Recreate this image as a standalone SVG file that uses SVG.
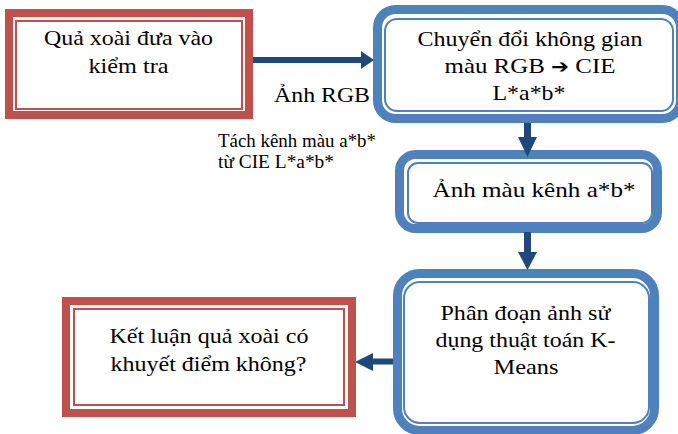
<svg xmlns="http://www.w3.org/2000/svg" width="678" height="434" viewBox="0 0 678 434">
<style>
.red-o{fill:none;stroke:#C0504D;stroke-width:8}
.red-i{fill:none;stroke:#C0504D;stroke-width:2}
.blue-o{fill:none;stroke:#4F81BD;stroke-width:9}
.blue-i{fill:none;stroke:#4F81BD;stroke-width:2}
.t{font-family:"Liberation Serif","Times New Roman",serif;font-size:22px;fill:#000;text-anchor:middle}
.s{font-family:"Liberation Serif","Times New Roman",serif;font-size:18px;fill:#000}
.sym{font-family:"DejaVu Sans",sans-serif;font-size:19px}
.arr{fill:#1F497D}
</style>
<rect width="678" height="434" fill="#fff"/>
<g id="node-input">
<rect class="red-o" x="9" y="13" width="240" height="102"/>
<rect class="red-i" x="16" y="21" width="226" height="88"/>
<text class="t" x="128.5" y="45" textLength="169" lengthAdjust="spacingAndGlyphs">Quả xoài đưa vào</text>
<text class="t" x="128.5" y="73" textLength="80" lengthAdjust="spacingAndGlyphs">kiểm tra</text>
</g>
<g id="node-convert">
<rect class="blue-o" x="377.5" y="9.5" width="303" height="109" rx="18"/>
<rect class="blue-i" x="385" y="19" width="288" height="92" rx="12"/>
<text class="t" x="530" y="46" textLength="225" lengthAdjust="spacingAndGlyphs">Chuyển đổi không gian</text>
<text class="t" x="530" y="73" textLength="171" lengthAdjust="spacingAndGlyphs">màu RGB <tspan class="sym">➔</tspan> CIE</text>
<text class="t" x="529" y="100" textLength="73" lengthAdjust="spacingAndGlyphs">L*a*b*</text>
</g>
<g id="node-ab">
<rect class="blue-o" x="399.5" y="154.5" width="258" height="74" rx="16"/>
<rect class="blue-i" x="408" y="163" width="244" height="60" rx="10"/>
<text class="t" x="534" y="197" textLength="203" lengthAdjust="spacingAndGlyphs">Ảnh màu kênh a*b*</text>
</g>
<g id="node-kmeans">
<rect class="blue-o" x="397.5" y="273.5" width="257" height="157" rx="22"/>
<rect class="blue-i" x="404" y="282" width="245" height="141" rx="16"/>
<text class="t" x="525.5" y="320" textLength="170" lengthAdjust="spacingAndGlyphs">Phân đoạn ảnh sử</text>
<text class="t" x="525.5" y="347" textLength="180" lengthAdjust="spacingAndGlyphs">dụng thuật toán K-</text>
<text class="t" x="526" y="374" textLength="65" lengthAdjust="spacingAndGlyphs">Means</text>
</g>
<g id="node-result">
<rect class="red-o" x="66" y="301" width="286" height="112"/>
<rect class="red-i" x="74" y="309" width="270" height="96"/>
<text class="t" x="209" y="343" textLength="199" lengthAdjust="spacingAndGlyphs">Kết luận quả xoài có</text>
<text class="t" x="208.5" y="371" textLength="196" lengthAdjust="spacingAndGlyphs">khuyết điểm không?</text>
</g>
<g id="labels">
<text class="s" x="274" y="102" style="font-size:22px" textLength="96" lengthAdjust="spacingAndGlyphs">Ảnh RGB</text>
<text class="s" x="218" y="147" textLength="158" lengthAdjust="spacingAndGlyphs">Tách kênh màu a*b*</text>
<text class="s" x="218" y="168" textLength="116" lengthAdjust="spacingAndGlyphs">từ CIE L*a*b*</text>
</g>
<g id="connectors">
<rect class="arr" x="253" y="57" width="109" height="6"/>
<polygon class="arr" points="361,51 374,60 361,69"/>
<rect class="arr" x="524" y="123" width="7" height="15"/>
<polygon class="arr" points="518,137 537,137 527.5,157"/>
<rect class="arr" x="524" y="232" width="7" height="21"/>
<polygon class="arr" points="518,252 537,252 527.5,270"/>
<rect class="arr" x="372" y="358.5" width="21" height="6"/>
<polygon class="arr" points="373,353 373,371 355,362"/>
</g>
</svg>
